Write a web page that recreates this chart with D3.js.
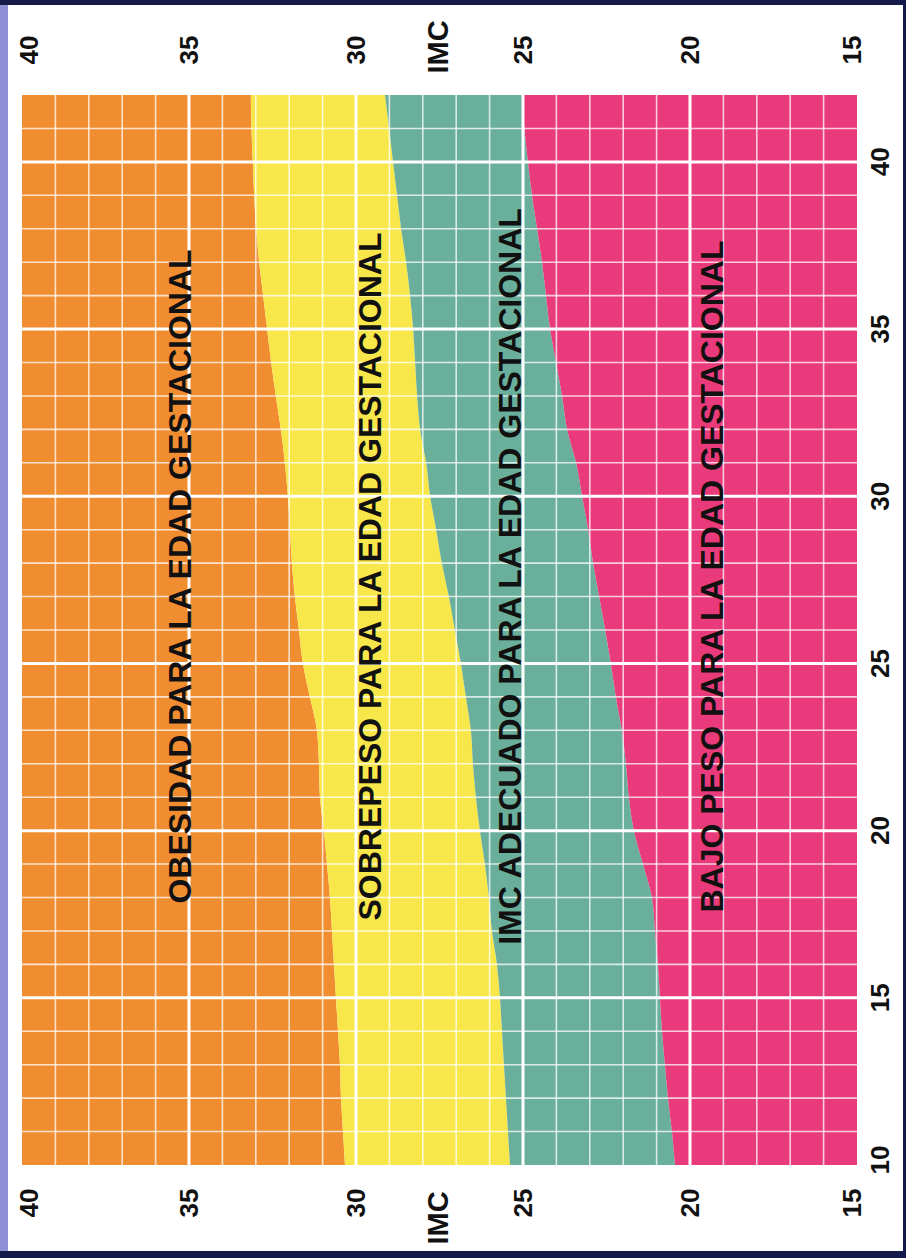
<!DOCTYPE html>
<html>
<meta charset="utf-8">
<head>
    <title>IMC según edad gestacional</title>
</head>
<style>
    body { margin: 0; background: #fff; }
    svg text { font-family: "Liberation Sans", Arial, sans-serif; fill: #111; }
</style>
<script src="https://d3js.org/d3.v7.min.js"></script>
<body>
<div id="chart"></div>
<script>

// semanas de gestacion (eje vertical)
var weeks = [10,11,12,13,14,15,16,17,18,19,20,21,22,23,24,25,26,27,28,29,30,31,32,33,34,35,36,37,38,39,40,41,42]

// limites de IMC, una fila por semana
var obesidadLim = [30.33,30.39,30.45,30.48,30.54,30.60,30.66,30.72,30.78,30.87,30.96,31.08,31.11,31.17,31.38,31.59,31.71,31.83,31.92,31.98,32.04,32.13,32.25,32.40,32.54,32.66,32.78,32.90,32.99,33.05,33.09,33.13,33.15]
var sobrepesoLim = [25.39,25.45,25.51,25.57,25.63,25.69,25.78,25.93,26.02,26.14,26.29,26.41,26.50,26.56,26.71,26.86,27.04,27.22,27.43,27.60,27.78,27.90,28.08,28.17,28.23,28.29,28.38,28.50,28.65,28.77,28.89,29.01,29.13]
var bajoPesoLim = [20.45,20.54,20.66,20.75,20.84,20.90,20.96,21.05,21.14,21.41,21.68,21.83,21.92,22.04,22.22,22.37,22.54,22.72,22.90,23.05,23.23,23.41,23.68,23.83,24.01,24.19,24.31,24.43,24.58,24.73,24.85,24.96,25.04]

var imcTicks = [40,35,30,25,20,15]
var weekTicks = [10,15,20,25,30,35,40]
var zoneNames = ["OBESIDAD PARA LA EDAD GESTACIONAL","SOBREPESO PARA LA EDAD GESTACIONAL","IMC ADECUADO PARA LA EDAD GESTACIONAL","BAJO PESO PARA LA EDAD GESTACIONAL"]
var zoneColors = ["#f18d31","#f8e74a","#6aae9c","#e93a7b"]
// donde va cada rotulo (IMC, semana)
var zoneLabelPos = [[35.27,27.6],[29.58,27.6],[25.39,27.6],[19.34,27.6]]

var W = 906, H = 1258
var plot = {left: 22, right: 857, top: 95, bottom: 1165}

var svg = d3.select("#chart").append("svg")
    .attr("width", W).attr("height", H)

// marco
svg.append("rect").attr("x", 0).attr("y", 0).attr("width", W).attr("height", H).attr("fill", "#fff")
svg.append("rect").attr("x", 0).attr("y", 0).attr("width", 8).attr("height", H).attr("fill", "#8f8fd6")
svg.append("rect").attr("x", 0).attr("y", 0).attr("width", W).attr("height", 5).attr("fill", "#141a4a")
svg.append("rect").attr("x", 0).attr("y", H - 7).attr("width", W).attr("height", 7).attr("fill", "#141a4a")
svg.append("rect").attr("x", W - 3).attr("y", 0).attr("width", 3).attr("height", H).attr("fill", "#141a4a")

var x = d3.scaleLinear().domain([40, 15]).range([plot.left, plot.right])
var y = d3.scaleLinear().domain([10, 42]).range([plot.bottom, plot.top])

var rows = weeks.map(function(w, i) {
    return {w: w, a: 40, b: obesidadLim[i], c: sobrepesoLim[i], d: bajoPesoLim[i], e: 15}
})
var keys = ["a","b","c","d","e"]

for (var k = 0; k < 4; k++) {
    (function(k0, k1, col) {
        var area = d3.area()
            .curve(d3.curveMonotoneY)
            .y(function(d) { return y(d.w) })
            .x0(function(d) { return x(d[k0]) })
            .x1(function(d) { return x(d[k1]) })
        svg.append("path").datum(rows).attr("d", area).attr("fill", col)
    })(keys[k], keys[k + 1], zoneColors[k])
}

// cuadricula
var grid = svg.append("g")
grid.selectAll("line.v").data(d3.range(16, 40)).enter().append("line")
    .attr("x1", function(d) { return x(d) }).attr("x2", function(d) { return x(d) })
    .attr("y1", plot.top).attr("y2", plot.bottom)
    .attr("stroke", "#fff")
    .attr("stroke-opacity", function(d) { return d % 5 == 0 ? 1 : 0.75 })
    .attr("stroke-width", function(d) { return d % 5 == 0 ? 3 : 1.6 })
grid.selectAll("line.h").data(d3.range(11, 42)).enter().append("line")
    .attr("y1", function(d) { return y(d) }).attr("y2", function(d) { return y(d) })
    .attr("x1", plot.left).attr("x2", plot.right)
    .attr("stroke", "#fff")
    .attr("stroke-opacity", function(d) { return d % 5 == 0 ? 1 : 0.75 })
    .attr("stroke-width", function(d) { return d % 5 == 0 ? 3 : 1.6 })

// rotulos de zonas
svg.selectAll("text.zone").data(zoneNames).enter().append("text")
    .attr("class", "zone")
    .attr("transform", function(d, i) {
        return "translate(" + (x(zoneLabelPos[i][0]) + 11) + "," + y(zoneLabelPos[i][1]) + ") rotate(-90)"
    })
    .attr("text-anchor", "middle")
    .style("font-size", "32px").style("font-weight", "bold")
    .text(function(d) { return d })

function clampX(v) { return Math.max(29, Math.min(852, x(v))) }

// IMC arriba y abajo
;[50, 1203].forEach(function(cy) {
    svg.selectAll(null).data(imcTicks).enter().append("text")
        .attr("transform", function(d) { return "translate(" + (clampX(d) + 9) + "," + cy + ") rotate(-90)" })
        .attr("text-anchor", "middle")
        .style("font-size", "26px").style("font-weight", "bold")
        .text(function(d) { return d })
})
svg.append("text").attr("transform", "translate(448,47) rotate(-90)")
    .attr("text-anchor", "middle").style("font-size", "29px").style("font-weight", "bold").text("IMC")
svg.append("text").attr("transform", "translate(448,1218) rotate(-90)")
    .attr("text-anchor", "middle").style("font-size", "29px").style("font-weight", "bold").text("IMC")

// semanas a la derecha
svg.selectAll(null).data(weekTicks).enter().append("text")
    .attr("transform", function(d) { return "translate(" + 889 + "," + Math.min(y(d), 1160) + ") rotate(-90)" })
    .attr("text-anchor", "middle")
    .style("font-size", "26px").style("font-weight", "bold")
    .text(function(d) { return d })

</script>
</body>
</html>
